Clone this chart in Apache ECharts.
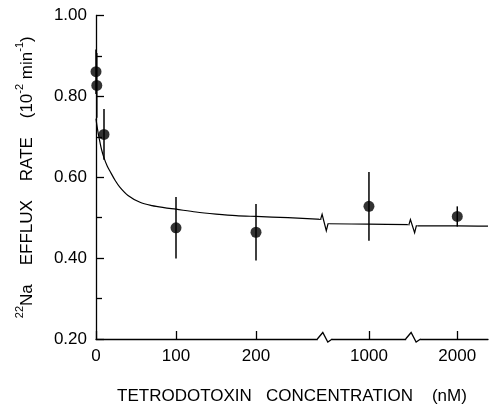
<!DOCTYPE html>
<html>
<head>
<meta charset="utf-8">
<script src="https://cdn.jsdelivr.net/npm/echarts@6/dist/echarts.min.js"></script>
<style>
html,body{margin:0;padding:0;background:#fff;}
#chart{width:489px;height:410px;}
</style>
</head>
<body>
<div id="chart"></div>
<script>
// ---- data ----
const concentrations = [0, 1, 10, 100, 200, 1000, 2000];           // nM
const effluxRates    = [0.861, 0.827, 0.706, 0.475, 0.464, 0.528, 0.503];
const rateErrors     = [0.055, 0.080, 0.063, 0.076, 0.070, 0.085, 0.025];

const curveSeg1 = [[0,0.745],[1,0.73],[3,0.706],[5,0.686],[7,0.668],[10,0.648],[14,0.628],[18,0.613],
                   [24,0.592],[30,0.575],[40,0.555],[55,0.538],[70,0.530],[85,0.525],[100,0.521],
                   [125,0.514],[150,0.509],[175,0.505],[200,0.503],[240,0.500],[282,0.496]];
const curveSeg2 = [[600,0.485],[1000,0.484],[1400,0.483]];
const curveSeg3 = [[1600,0.480],[2000,0.480],[2300,0.479]];

const xTickValues = [0, 100, 200, 1000, 2000];
const xTickLabels = ['0', '100', '200', '1000', '2000'];
const yTickValues = [0.2, 0.4, 0.6, 0.8, 1.0];

// broken axis: shown concentration ranges and their scale
const axisSegments = [[0, 282], [600, 1400], [1600, 2300]];
const segmentScales = [1, 0.128, 0.128];
const breakGap = 8;

function toAxis(c) {
  let offset = 0;
  for (let i = 0; i < axisSegments.length; i++) {
    const [lo, hi] = axisSegments[i];
    if (c <= hi || i === axisSegments.length - 1) {
      return offset + (c - lo) * segmentScales[i];
    }
    offset += (hi - lo) * segmentScales[i] + breakGap;
  }
}
const axisMax = toAxis(axisSegments[axisSegments.length - 1][1]);
const tickPositions = xTickValues.map(toAxis);

const ink = '#000';
const font = 'Liberation Sans';
const chart = echarts.init(document.getElementById('chart'), null, {renderer: 'canvas'});

const segs = [curveSeg1, curveSeg2, curveSeg3];
const curveSeries = segs.map(seg => ({
  type: 'line',
  data: seg.map(p => [toAxis(p[0]), p[1]]),
  showSymbol: false,
  smooth: 0.3,
  lineStyle: {color: ink, width: 1.2},
  silent: true,
  z: 3
}));

chart.setOption({
  animation: false,
  backgroundColor: '#fff',
  grid: {left: 96, right: 1, top: 15.5, bottom: 68},
  xAxis: {
    type: 'value', min: 0, max: axisMax,
    name: 'TETRODOTOXIN   CONCENTRATION    (nM)',
    nameLocation: 'middle', nameGap: 49,
    nameTextStyle: {color: ink, fontSize: 17, fontFamily: font},
    axisLine: {show: true, onZero: false, lineStyle: {color: ink, width: 1.3}},
    axisTick: {show: true, inside: true, length: 8, customValues: tickPositions, lineStyle: {color: ink, width: 1.3}},
    axisLabel: {
      customValues: tickPositions, margin: 9, color: ink, fontSize: 17, fontFamily: font,
      formatter: v => {
        let best = 0;
        tickPositions.forEach((p, i) => { if (Math.abs(p - v) < Math.abs(tickPositions[best] - v)) best = i; });
        return xTickLabels[best];
      }
    },
    splitLine: {show: false}
  },
  yAxis: {
    type: 'value', min: 0.2, max: 1.0, interval: 0.2,
    name: '{sup|22}{t|Na    EFFLUX    RATE    (10}{sup|-2}{t| min}{sup|-1}{t|)}',
    nameLocation: 'middle', nameRotate: 90, nameGap: 60,
    nameTextStyle: {
      color: ink, fontSize: 17, fontFamily: font,
      rich: {
        t: {fontSize: 17, fontFamily: font, color: ink, lineHeight: 22, verticalAlign: 'bottom'},
        sup: {fontSize: 11, fontFamily: font, color: ink, lineHeight: 12, verticalAlign: 'top'}
      }
    },
    axisLine: {show: true, lineStyle: {color: ink, width: 1.3}},
    axisTick: {show: true, inside: true, length: 8, lineStyle: {color: ink, width: 1.3}},
    minorTick: {show: true, splitNumber: 2, length: 6, lineStyle: {color: ink, width: 1.3}},
    axisLabel: {margin: 9, color: ink, fontSize: 17, fontFamily: font, formatter: v => v.toFixed(2)},
    splitLine: {show: false},
    minorSplitLine: {show: false}
  },
  series: [
    ...curveSeries,
    {
      type: 'custom',
      silent: true,
      z: 4,
      data: concentrations.map((c, i) => [toAxis(c), effluxRates[i] - rateErrors[i], effluxRates[i] + rateErrors[i]]),
      renderItem: (params, api) => {
        const lo = api.coord([api.value(0), api.value(1)]);
        const hi = api.coord([api.value(0), api.value(2)]);
        return {type: 'line', shape: {x1: lo[0], y1: lo[1], x2: hi[0], y2: hi[1]}, style: {stroke: ink, lineWidth: 1.5}};
      }
    },
    {
      type: 'scatter',
      silent: true,
      z: 5,
      symbol: 'circle',
      symbolSize: 11,
      itemStyle: {color: ink},
      data: concentrations.map((c, i) => [toAxis(c), effluxRates[i]])
    },
    {
      type: 'custom',
      silent: true,
      z: 6,
      data: [[0, 0], [1, 0]],
      renderItem: (params, api) => {
        const i = params.dataIndex;
        const a = segs[i][segs[i].length - 1];
        const b = segs[i + 1][0];
        const pL = api.coord([toAxis(a[0]), a[1]]);
        const pR = api.coord([toAxis(b[0]), b[1]]);
        const cx = (pL[0] + pR[0]) / 2;
        const y0 = api.coord([0, 0.2])[1];
        const pts = [[pL[0] - 1, pL[1]], [pL[0] + 0.5, pL[1] - 5], [cx + 1.5, pR[1] + 7], [pR[0], pR[1]], [pR[0] + 1, pR[1]]];
        return {
          type: 'group',
          children: [
            {type: 'polyline', shape: {points: pts}, style: {stroke: '#fff', lineWidth: 3, fill: null}, z2: 1},
            {type: 'polyline', shape: {points: pts}, style: {stroke: ink, lineWidth: 1.2, fill: null}, z2: 2},
            {type: 'rect', shape: {x: cx - 7, y: y0 - 2.5, width: 14, height: 5}, style: {fill: '#fff'}, z2: 1},
            {type: 'polyline', shape: {points: [[cx - 7.5, y0], [cx - 2, y0 - 6.5], [cx + 3, y0 + 3], [cx + 7.5, y0]]},
             style: {stroke: ink, lineWidth: 1.3, fill: null}, z2: 2}
          ]
        };
      }
    }
  ]
});
</script>
</body>
</html>
